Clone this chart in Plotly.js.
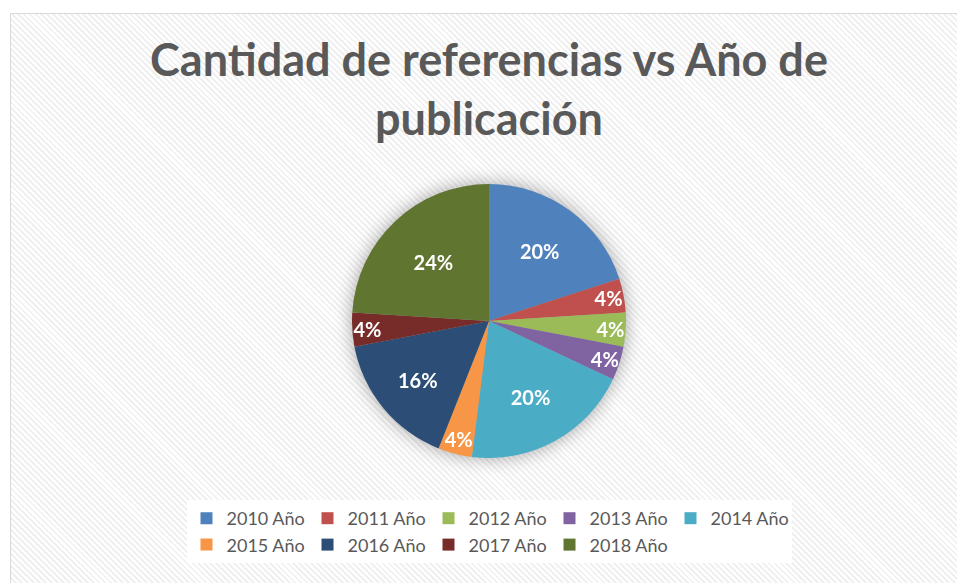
<!DOCTYPE html>
<html>
<head>
<meta charset="utf-8">
<script src="https://cdn.plot.ly/plotly-3.0.1.min.js"></script>
<style>
  html, body { margin: 0; padding: 0; background: #ffffff; width: 957px; height: 583px; overflow: hidden; }
  #frame {
    position: absolute; left: 10px; top: 13px; width: 960px; height: 580px;
    border: 1.5px solid #d9d9d9;
    background: repeating-linear-gradient(45deg, #ffffff 0px, #ffffff 2.2px, #f0f0f0 2.2px, #f0f0f0 4.2px);
  }
  #chart { position: absolute; left: 0; top: 0; width: 957px; height: 583px; }
  .pielayer .trace { filter: drop-shadow(0px 0px 9px rgba(0,0,0,0.35)); }
</style>
</head>
<body>
<div id="frame"></div>
<div id="chart"></div>
<script>
const years = ["2010 Año", "2011 Año", "2012 Año", "2013 Año", "2014 Año", "2015 Año", "2016 Año", "2017 Año", "2018 Año"];
const counts = [5, 1, 1, 1, 5, 1, 4, 1, 6];
const colors = ["#4F81BD", "#C0504D", "#9BBB59", "#8064A2", "#4BACC6", "#F79646", "#2C4D75", "#772C2A", "#5F7530"];
const titleText = "Cantidad de referencias vs Año de<br>publicación";

const W = 957, H = 583;
const cx = 489, cy = 321, r = 137;
const half = 312;               // half-width of plot area (controls legend wrapping)
const mL = cx - half, mR = W - cx - half, PW = 2 * half;
const FONT = "Lato, 'Open Sans', sans-serif";

const trace = {
  type: "pie",
  labels: years,
  values: counts,
  sort: false,
  direction: "clockwise",
  rotation: 0,
  marker: { colors: colors, line: { width: 0 } },
  textinfo: "percent",
  texttemplate: "%{percent:.0%}",
  textposition: "inside",
  insidetextorientation: "horizontal",
  insidetextfont: { family: FONT, size: 20, color: "#ffffff", weight: "bold" },
  hoverinfo: "label+percent",
  domain: { x: [(cx - r - mL) / PW, (cx + r - mL) / PW], y: [1 - (cy + r) / H, 1 - (cy - r) / H] }
};

const layout = {
  width: W, height: H,
  margin: { l: mL, r: mR, t: 0, b: 0 },
  paper_bgcolor: "rgba(0,0,0,0)",
  plot_bgcolor: "rgba(0,0,0,0)",
  font: { family: FONT, color: "#595959" },
  uniformtext: { mode: "show", minsize: 19 },
  title: {
    text: titleText,
    x: cx / W, xanchor: "center", xref: "container",
    y: 1 - 76 / H, yanchor: "top", yref: "container",
    font: { family: FONT, size: 45, color: "#595959", weight: "bold" }
  },
  showlegend: true,
  legend: {
    orientation: "h",
    x: 0.5, xanchor: "center",
    y: 1 - 500 / H, yanchor: "top",
    bgcolor: "#ffffff",
    font: { family: FONT, size: 18, color: "#595959" },
    entrywidth: 76,
    entrywidthmode: "pixels",
    traceorder: "normal",
    itemclick: false
  }
};

Plotly.newPlot("chart", [trace], layout, { displayModeBar: false, staticPlot: true });
</script>
</body>
</html>
